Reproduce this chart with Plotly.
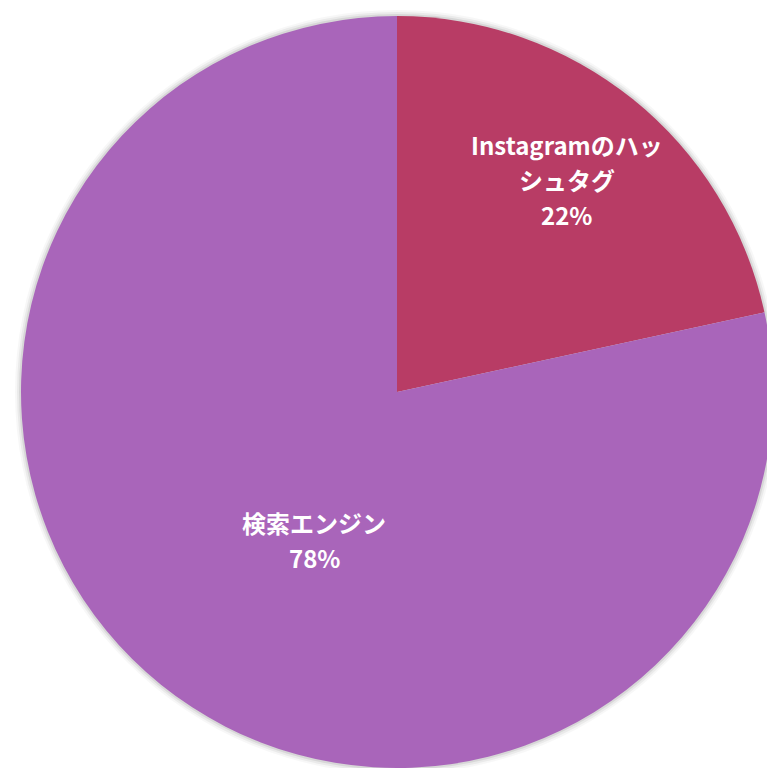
import math
import plotly.graph_objects as go

labels = ["Instagramのハッシュタグ", "検索エンジン"]
label_lines = [["Instagramのハッ", "シュタグ"], ["検索エンジン"]]
values = [21.6, 78.4]
colors = ["#B83C65", "#A965BA"]

W, H = 790, 768
cx, cy, R = 397, 392, 376

fig = go.Figure()
fig.add_trace(go.Pie(
    labels=labels, values=values, sort=False, direction="clockwise", rotation=0,
    marker=dict(colors=colors, line=dict(width=0)),
    textinfo="none", hoverinfo="label+percent", showlegend=False,
    domain=dict(x=[(cx - R) / W, (cx + R) / W], y=[1 - (cy + R) / H, 1 - (cy - R) / H]),
))

# soft shadow around the pie
shapes = []
for dr, op in [(6, 0.03), (4, 0.05), (2, 0.08)]:
    shapes.append(dict(type="circle", xref="paper", yref="paper",
                       x0=(cx - R - dr) / W, x1=(cx + R + dr) / W,
                       y0=1 - (cy + R + dr) / H, y1=1 - (cy - R - dr) / H,
                       fillcolor=f"rgba(0,0,0,{op})", line=dict(width=0), layer="below"))

# label anchors (radius fraction, angle offset deg) per slice
anchor = [(0.72, 0.0), (0.455, -10.0)]
total = sum(values)
annotations = []
start = 0.0
font = dict(family="Noto Sans CJK JP, Noto Sans, sans-serif", size=24, color="white")
for i, v in enumerate(values):
    frac = v / total
    mid = (start + frac / 2) * 360 + anchor[i][1]
    start += frac
    rr = anchor[i][0] * R
    ax = cx + rr * math.sin(math.radians(mid))
    ay = cy - rr * math.cos(math.radians(mid))
    lines = label_lines[i] + [f"{round(frac * 100)}%"]
    n = len(lines)
    spacing = 35
    for k, t in enumerate(lines):
        py = ay + (k - (n - 1) / 2) * spacing - 2
        annotations.append(dict(x=ax / W, y=1 - py / H, xref="paper", yref="paper",
                                text=f"<b>{t}</b>", showarrow=False, font=font,
                                xanchor="center", yanchor="middle"))

fig.update_layout(
    width=W, height=H, autosize=False,
    margin=dict(l=0, r=0, t=0, b=0),
    paper_bgcolor="white", plot_bgcolor="white",
    shapes=shapes, annotations=annotations,
)

fig.write_html("out.html", config={"displayModeBar": False},
               post_script="document.body.style.margin='0';document.body.style.overflow='hidden';document.documentElement.style.overflow='hidden';")
